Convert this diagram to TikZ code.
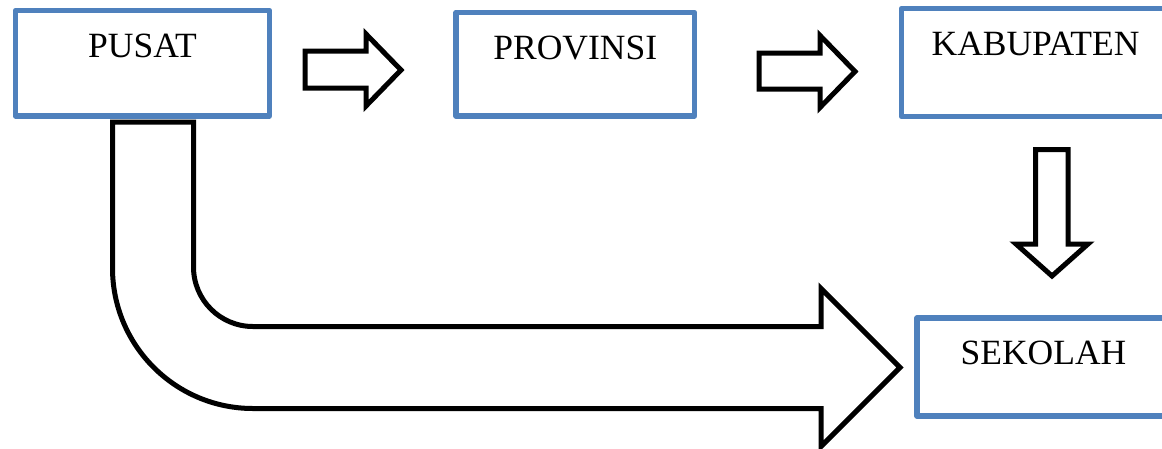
\documentclass[tikz,border=0pt]{standalone}
\usepackage{fontspec}
\setmainfont{Liberation Serif}
\usetikzlibrary{calc}
\definecolor{boxblue}{RGB}{79,129,189}
\tikzstyle{box}=[rectangle, fill=white, draw=boxblue, line width=5.5pt, inner sep=0pt, outer sep=0pt, line join=round, anchor=center]
\tikzstyle{annot}=[align=center, anchor=base, inner sep=0pt, font=\fontsize{35.5}{40}\selectfont]
\tikzstyle{blockarrow}=[draw=black, fill=white, line width=5pt, line join=miter]
\begin{document}
\begin{tikzpicture}[x=1pt, y=-1pt]
	\useasboundingbox (0,0) rectangle (1162,448);

	\node[box, minimum width=254pt, minimum height=105.5pt](pusat) at (142.5,63.25){};
	\node[box, minimum width=238.5pt, minimum height=103.5pt](provinsi) at (575.25,64.25){};
	\node[box, minimum width=268pt, minimum height=108pt](kabupaten) at (1035.5,62.5){};
	\node[box, minimum width=253pt, minimum height=98pt](sekolah) at (1043.5,367){};

	\node[annot] (pusatlbl) at ([yshift=-46.5pt]pusat.north) {PUSAT};
	\node[annot] (provinsilbl) at ([yshift=-46.5pt]provinsi.north) {PROVINSI};
	\node[annot] (kabupatenlbl) at ([yshift=-46.5pt]kabupaten.north) {KABUPATEN};
	\node[annot] (sekolahlbl) at ([yshift=-46.5pt]sekolah.north) {SEKOLAH};

	% block arrows
	\draw[blockarrow] (305,51) -- (366,51) -- (366,34) -- (401,70) -- (366,106) -- (366,88) -- (305,88) -- cycle;
	\draw[blockarrow] (759,53) -- (820,53) -- (820,35.5) -- (855,71.5) -- (820,107.5) -- (820,89) -- (759,89) -- cycle;
	\draw[blockarrow] (1035.5,149.5) -- (1068,149.5) -- (1068,244) -- (1088,244) -- (1052,276) -- (1016,244) -- (1035.5,244) -- cycle;

	%\draw[blockarrow] (pusat.south) -- (sekolah.west);
	\draw[blockarrow] (112.5,122) -- (112.5,268) .. controls (112.5,345.6) and (175.4,408.5) .. (253,408.5)
		-- (821,408.5) -- (821,446.5) -- (900,367.5) -- (821,288.5) -- (821,326.5) -- (253,326.5)
		.. controls (220.1,326.5) and (193.5,299.9) .. (193.5,267) -- (193.5,122) -- cycle;

\end{tikzpicture}
\end{document}
